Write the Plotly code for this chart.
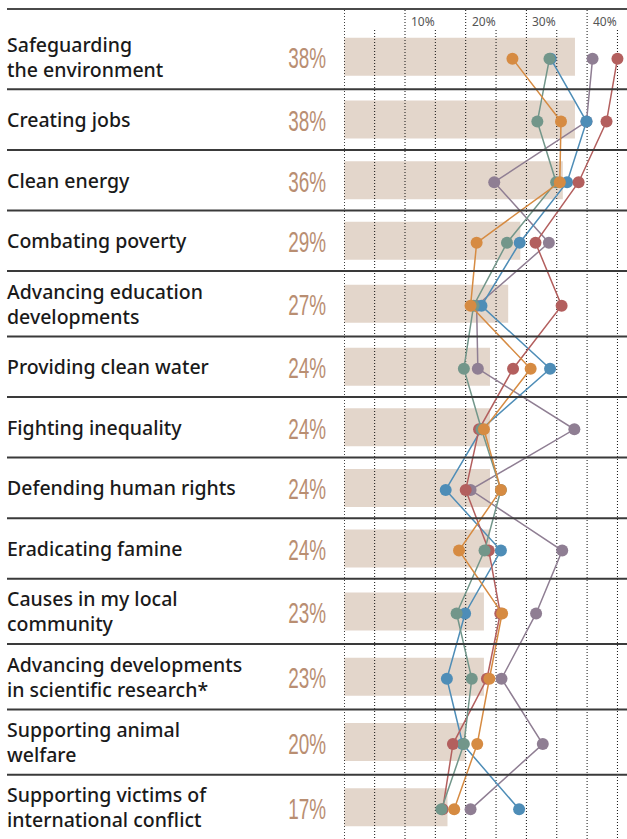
import plotly.graph_objects as go

# ---------------- data ----------------
causes = [
    "Safeguarding<br>the environment",
    "Creating jobs",
    "Clean energy",
    "Combating poverty",
    "Advancing education<br>developments",
    "Providing clean water",
    "Fighting inequality",
    "Defending human rights",
    "Eradicating famine",
    "Causes in my local<br>community",
    "Advancing developments<br>in scientific research*",
    "Supporting animal<br>welfare",
    "Supporting victims of<br>international conflict",
]
overall = [38, 38, 36, 29, 27, 24, 24, 24, 24, 23, 23, 20, 17]

series_purple = [40.9, 39.9, 24.7, 33.7, 21.8, 22.0, 37.9, 20.8, 35.9, 31.6, 25.9, 32.7, 20.8]
series_blue   = [34.0, 39.9, 36.7, 28.9, 22.6, 33.9, 22.6, 16.7, 25.8, 19.9, 16.9, 19.5, 28.8]
series_red    = [45.0, 43.2, 38.6, 31.5, 35.8, 27.8, 22.2, 20.0, 23.8, 25.7, 23.5, 17.9, 16.2]
series_green  = [33.8, 31.8, 34.9, 26.8, 21.3, 19.7, 22.6, 25.8, 23.1, 18.5, 21.0, 19.7, 16.0]
series_orange = [27.7, 35.7, 35.5, 21.8, 20.8, 30.7, 23.0, 25.8, 18.9, 26.0, 23.9, 21.9, 18.1]

tick_values = [10, 20, 30, 40]
tick_labels = ["10%", "20%", "30%", "40%"]

# ---------------- layout helpers ----------------
W, H = 627, 839
L = 344
PX_PER_PCT = 6.07
x0 = -0.3 / PX_PER_PCT
x1 = x0 + (W - L) / PX_PER_PCT

def xpaper(px):
    return (px - L) / (W - L)

tops, centers = [], []
cur = 24.0
for lab in causes:
    h = 65.3 if "<br>" in lab else 60.6
    tops.append(cur)
    centers.append(cur + h / 2)
    cur += h
dots_y = [c + 2 for c in centers]

fig = go.Figure()

fig.add_trace(go.Bar(
    x=overall, y=centers, orientation="h", width=38, base=0,
    marker=dict(color="#E3D6CB", line=dict(width=0)),
    hoverinfo="skip", showlegend=False,
))

# dotted gridlines (above bars, below series)
for v in [0, 10, 20, 30, 40]:
    fig.add_trace(go.Scatter(x=[v, v], y=[10, H], mode="lines",
                             line=dict(color="#111111", width=1, dash="1px,2px"),
                             hoverinfo="skip", showlegend=False))
for v in [5, 15, 25, 35, 45]:
    fig.add_trace(go.Scatter(x=[v, v], y=[30, H], mode="lines",
                             line=dict(color="#111111", width=1, dash="1px,2px"),
                             hoverinfo="skip", showlegend=False))

for name, vals, col in [
    ("Purple", series_purple, "#8F7E93"),
    ("Blue", series_blue, "#4E8DB7"),
    ("Red", series_red, "#B35F5E"),
    ("Green", series_green, "#72968A"),
    ("Orange", series_orange, "#D68B42"),
]:
    fig.add_trace(go.Scatter(
        x=vals, y=dots_y, mode="lines+markers", name=name,
        line=dict(color=col, width=1.5),
        marker=dict(color=col, size=12, line=dict(width=0)),
        showlegend=False,
    ))

shapes = []
shapes.append(dict(type="line", xref="paper", yref="y", x0=xpaper(7), x1=1,
                   y0=9, y1=9, line=dict(color="#4a4a4a", width=2)))
for t in tops[1:]:
    shapes.append(dict(type="line", xref="paper", yref="y", x0=xpaper(7), x1=1,
                       y0=t, y1=t, line=dict(color="#3a3a3a", width=2)))

annotations = []
for lab, c in zip(causes, centers):
    annotations.append(dict(
        text=lab, xref="paper", yref="y", x=xpaper(5), y=c, xanchor="left",
        yanchor="middle", align="left", showarrow=False,
        font=dict(family="Noto Sans", size=19.5, color="#1a1a1a", weight=500),
    ))
for v, c in zip(overall, centers):
    annotations.append(dict(
        text=f"{v}%", xref="paper", yref="y", x=xpaper(328), y=c + 1,
        xanchor="right", yanchor="middle", showarrow=False,
        font=dict(family="Liberation Sans", size=30, color="#B98E72"),
    ))
for v, t in zip(tick_values, tick_labels):
    annotations.append(dict(
        text=t, xref="x", yref="y", x=v + 4 / PX_PER_PCT, y=21,
        xanchor="left", yanchor="middle", showarrow=False,
        font=dict(family="Noto Sans", size=12, color="#555555"),
    ))

fig.update_layout(
    width=W, height=H,
    margin=dict(l=L, r=0, t=0, b=0),
    paper_bgcolor="white", plot_bgcolor="white",
    xaxis=dict(range=[x0, x1], visible=False, fixedrange=True),
    yaxis=dict(range=[H, 0], visible=False, fixedrange=True),
    shapes=shapes, annotations=annotations,
    showlegend=False,
)

post_js = """
document.body.style.margin='0';
document.querySelectorAll('text.annotation-text').forEach(function(t){
  if (/^\\d+%$/.test(t.textContent) && parseFloat(t.style.fontSize) > 20) {
    t.style.transformBox = 'fill-box';
    t.style.transformOrigin = 'right center';
    t.style.transform = 'scaleX(0.63)';
  }
});
"""

fig.write_html("out.html", config={"displayModeBar": False}, post_script=post_js)
